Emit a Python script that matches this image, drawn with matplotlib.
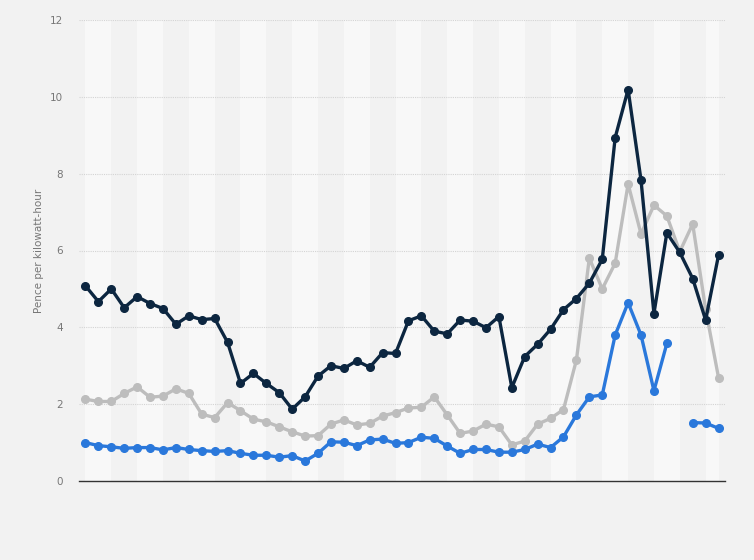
import numpy as np
import matplotlib
matplotlib.use("Agg")
import matplotlib.pyplot as plt

# Data (50 periods, values in pence per kWh)
navy = [5.08, 4.67, 5.00, 4.51, 4.80, 4.62, 4.49, 4.08, 4.30, 4.20,
        4.23, 3.61, 2.54, 2.80, 2.54, 2.30, 1.87, 2.19, 2.73, 3.00,
        2.93, 3.13, 2.96, 3.34, 3.32, 4.17, 4.30, 3.90, 3.83, 4.19,
        4.16, 3.99, 4.28, 2.43, 3.24, 3.56, 3.95, 4.46, 4.75, 5.15,
        5.77, 8.94, 10.19, 7.83, 4.36, 6.46, 5.95, 5.27, 4.19, 5.88]
gray = [2.13, 2.07, 2.07, 2.28, 2.45, 2.18, 2.21, 2.40, 2.28, 1.74,
        1.65, 2.04, 1.83, 1.61, 1.54, 1.41, 1.28, 1.17, 1.18, 1.48,
        1.59, 1.46, 1.50, 1.69, 1.78, 1.90, 1.92, 2.19, 1.72, 1.24,
        1.30, 1.48, 1.41, 0.94, 1.04, 1.48, 1.63, 1.86, 3.15, 5.80,
        5.00, 5.67, 7.73, 6.43, 7.18, 6.90, 5.97, 6.69, 4.47, 2.69]
blue = [1.00, 0.92, 0.89, 0.85, 0.87, 0.87, 0.81, 0.87, 0.82, 0.79,
        0.77, 0.79, 0.72, 0.67, 0.67, 0.62, 0.66, 0.52, 0.72, 1.02,
        1.01, 0.92, 1.07, 1.09, 0.98, 1.00, 1.14, 1.11, 0.91, 0.72,
        0.82, 0.82, 0.75, 0.75, 0.82, 0.96, 0.87, 1.15, 1.72, 2.19,
        2.24, 3.80, 4.64, 3.80, 2.35, 3.58, np.nan, 1.52, 1.51, 1.37]
y_ticks = [0, 2, 4, 6, 8, 10, 12]
y_label = "Pence per kilowatt-hour"

BG = "#f2f2f2"
LIGHT = "#f8f8f8"

fig = plt.figure(figsize=(7.54, 5.60), dpi=100, facecolor=BG)
ax = fig.add_axes([79/754, 79/560, 646/754, 461/560], facecolor=BG)

n = len(navy)
x = np.arange(n)

# alternating background bands
starts = list(range(0, n, 2))
for j, s in enumerate(starts):
    e = min(s + 2, n - 1)
    if j % 2 == 0:
        ax.axvspan(s, e, color=LIGHT, lw=0, zorder=0)

for yv in y_ticks[1:]:
    ax.axhline(yv, color="#d4d4d4", lw=0.8, ls=(0, (1, 1)), zorder=1)

ax.plot(x, gray, color="#bdbdbd", lw=2.4, marker="o", ms=5.5, zorder=3)
ax.plot(x, navy, color="#0c2640", lw=2.4, marker="o", ms=5.5, zorder=4)
ax.plot(x, blue, color="#2a78db", lw=2.4, marker="o", ms=5.5, zorder=5)

ax.set_xlim(-0.5, n - 0.5)
ax.set_ylim(0, 12)
ax.set_yticks(y_ticks)
ax.set_yticklabels([str(v) for v in y_ticks], color="#777777", fontsize=7.5)
ax.set_xticks([])
ax.tick_params(axis="y", length=0, pad=11.5)
for s in ["top", "right", "left"]:
    ax.spines[s].set_visible(False)
ax.spines["bottom"].set_color("#333333")
ax.spines["bottom"].set_linewidth(1.0)
ax.spines["bottom"].set_zorder(6)
ax.set_ylabel(y_label, color="#777777", fontsize=7.5, labelpad=4)

fig.savefig("out.png", dpi=100, facecolor=BG)
